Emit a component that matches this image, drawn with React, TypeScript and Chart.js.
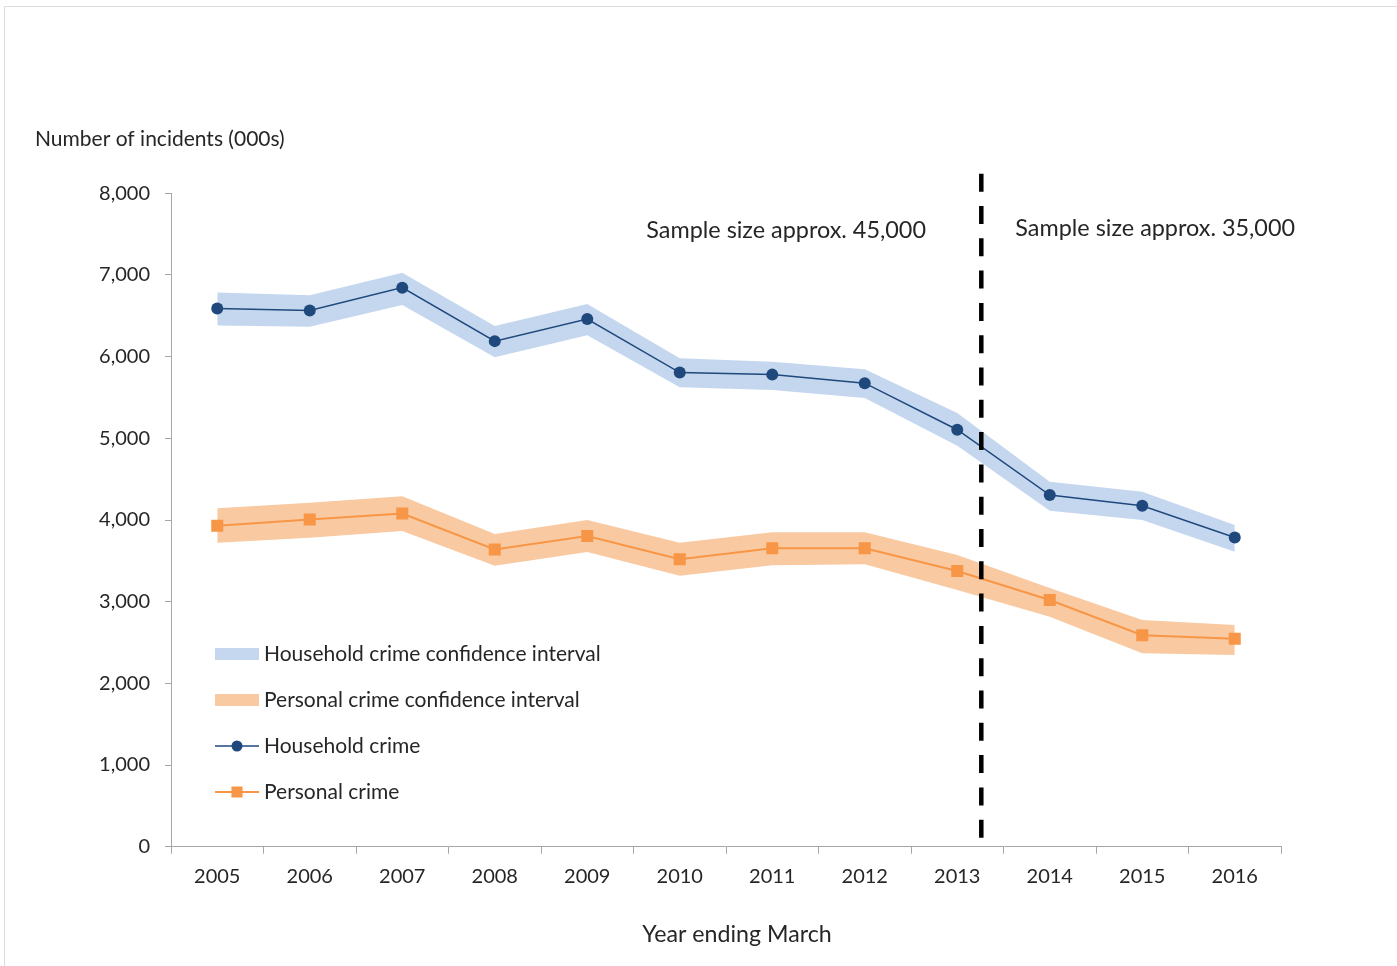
import React, { useEffect, useRef } from "react";
import { Chart, registerables } from "chart.js";

Chart.register(...registerables);

const years = ["2005", "2006", "2007", "2008", "2009", "2010", "2011", "2012", "2013", "2014", "2015", "2016"];
const householdCrime = [6590, 6565, 6845, 6190, 6460, 5805, 5780, 5675, 5105, 4305, 4175, 3785];
const householdLower = [6380, 6367, 6633, 5992, 6262, 5625, 5592, 5494, 4910, 4114, 4000, 3612];
const householdUpper = [6784, 6752, 7028, 6376, 6645, 5980, 5939, 5845, 5310, 4469, 4347, 3939];
const personalCrime = [3930, 4005, 4080, 3640, 3805, 3520, 3655, 3655, 3375, 3020, 2590, 2545];
const personalLower = [3722, 3784, 3866, 3441, 3608, 3318, 3446, 3458, 3143, 2816, 2368, 2347];
const personalUpper = [4144, 4212, 4290, 3829, 4000, 3722, 3850, 3850, 3572, 3168, 2776, 2714];
const yTickValues = [0, 1000, 2000, 3000, 4000, 5000, 6000, 7000, 8000];

const sampleBreakIndex = 8.26;
const sampleBreakTop = 8240;
const sampleLabels = ["Sample size approx. 45,000", "Sample size approx. 35,000"];
const sampleLabelIndex = [6.15, 10.14];
const sampleLabelValue = [7550, 7575];

const legendLabels = [
  "Household crime confidence interval",
  "Personal crime confidence interval",
  "Household crime",
  "Personal crime",
];
const yAxisTitle = "Number of incidents (000s)";
const xAxisTitle = "Year ending March";

const FONT = "Lato";
const TEXT = "#262626";
const AXIS = "#a6a6a6";
const HH_LINE = "#1f497d";
const HH_BAND = "#c5d7ef";
const PC_LINE = "#f79646";
const PC_BAND = "#f9c9a1";

const fmt = (v: number) => v.toLocaleString("en-US");

export default function App() {
  const ref = useRef<HTMLCanvasElement | null>(null);

  useEffect(() => {
    const canvas = ref.current;
    if (!canvas) return;

    const decor = {
      id: "decor",
      beforeDraw(chart: any) {
        const ctx = chart.ctx;
        ctx.save();
        ctx.fillStyle = "#ffffff";
        ctx.fillRect(0, 0, chart.width, chart.height);
        ctx.strokeStyle = "#dcdcdc";
        ctx.lineWidth = 1;
        ctx.strokeRect(4.5, 6.5, chart.width + 20, chart.height + 20);
        ctx.restore();
      },
      afterDatasetsDraw(chart: any) {
        const ctx = chart.ctx;
        const xs = chart.scales.x;
        const ys = chart.scales.y;
        const x = xs.getPixelForValue(sampleBreakIndex);
        ctx.save();
        ctx.strokeStyle = "#000000";
        ctx.lineWidth = 4.5;
        ctx.setLineDash([18, 14.3]);
        ctx.beginPath();
        ctx.moveTo(x, ys.getPixelForValue(sampleBreakTop));
        ctx.lineTo(x, ys.getPixelForValue(0));
        ctx.stroke();
        ctx.restore();
      },
      afterDraw(chart: any) {
        const ctx = chart.ctx;
        const xs = chart.scales.x;
        const ys = chart.scales.y;
        const area = chart.chartArea;
        ctx.save();
        ctx.fillStyle = TEXT;
        ctx.textBaseline = "middle";

        // sample size annotations
        ctx.font = `23.4px ${FONT}`;
        ctx.textAlign = "center";
        sampleLabels.forEach((t, i) => {
          ctx.fillText(t, xs.getPixelForValue(sampleLabelIndex[i]), ys.getPixelForValue(sampleLabelValue[i]));
        });

        // x axis title
        ctx.font = `23.2px ${FONT}`;
        ctx.textAlign = "center";
        ctx.fillText(xAxisTitle, (area.left + area.right) / 2 + 11, area.bottom + 88);

        // y axis title
        ctx.font = `21px ${FONT}`;
        ctx.textAlign = "left";
        ctx.fillText(yAxisTitle, area.left - 136, area.top - 54);

        // legend
        const lx = area.left + 44;
        const sw = 44;
        const tx = lx + sw + 5;
        const rows = [460.7, 506.7, 552.7, 598.7].map((d) => area.top + d);
        ctx.textAlign = "left";
        ctx.fillStyle = HH_BAND;
        ctx.fillRect(lx, rows[0] - 6, sw, 12);
        ctx.fillStyle = PC_BAND;
        ctx.fillRect(lx, rows[1] - 6, sw, 12);
        ctx.strokeStyle = HH_LINE;
        ctx.lineWidth = 1.5;
        ctx.beginPath();
        ctx.moveTo(lx, rows[2]);
        ctx.lineTo(lx + sw, rows[2]);
        ctx.stroke();
        ctx.fillStyle = HH_LINE;
        ctx.beginPath();
        ctx.arc(lx + sw / 2, rows[2], 5.5, 0, Math.PI * 2);
        ctx.fill();
        ctx.strokeStyle = PC_LINE;
        ctx.lineWidth = 2;
        ctx.beginPath();
        ctx.moveTo(lx, rows[3]);
        ctx.lineTo(lx + sw, rows[3]);
        ctx.stroke();
        ctx.fillStyle = PC_LINE;
        ctx.fillRect(lx + sw / 2 - 5.5, rows[3] - 5.5, 11, 11);

        ctx.fillStyle = TEXT;
        legendLabels.forEach((t, i) => ctx.fillText(t, tx, rows[i]));
        ctx.restore();
      },
    };

    const chart = new Chart(canvas, {
      type: "line",
      data: {
        labels: years,
        datasets: [
          {
            label: "Household crime",
            data: householdCrime,
            borderColor: HH_LINE,
            backgroundColor: HH_LINE,
            borderWidth: 1.5,
            pointStyle: "circle",
            pointRadius: 6,
            pointBorderWidth: 0,
            pointBackgroundColor: HH_LINE,
            tension: 0,
            fill: false,
          },
          {
            label: "Personal crime",
            data: personalCrime,
            borderColor: PC_LINE,
            backgroundColor: PC_LINE,
            borderWidth: 2,
            pointStyle: "rect",
            pointRadius: 8.5,
            pointBorderWidth: 0,
            pointBackgroundColor: PC_LINE,
            tension: 0,
            fill: false,
          },
          {
            label: "Household lower",
            data: householdLower,
            borderColor: "transparent",
            borderWidth: 0,
            pointRadius: 0,
            fill: false,
          },
          {
            label: "Household crime confidence interval",
            data: householdUpper,
            borderColor: "transparent",
            backgroundColor: HH_BAND,
            borderWidth: 0,
            pointRadius: 0,
            fill: { target: 2 },
          },
          {
            label: "Personal lower",
            data: personalLower,
            borderColor: "transparent",
            borderWidth: 0,
            pointRadius: 0,
            fill: false,
          },
          {
            label: "Personal crime confidence interval",
            data: personalUpper,
            borderColor: "transparent",
            backgroundColor: PC_BAND,
            borderWidth: 0,
            pointRadius: 0,
            fill: { target: 4 },
          },
        ],
      },
      options: {
        responsive: false,
        animation: false,
        devicePixelRatio: 1,
        layout: { padding: { left: 31, right: 116, top: 193.3, bottom: 59.3 } },
        plugins: {
          legend: { display: false },
          tooltip: { enabled: false },
          title: { display: false },
        },
        scales: {
          x: {
            type: "category",
            offset: true,
            grid: { offset: true, drawOnChartArea: false, tickLength: 7, color: AXIS },
            border: { color: AXIS, width: 1 },
            ticks: { font: { family: FONT, size: 20 }, color: TEXT, padding: 11, maxRotation: 0 },
            afterFit: (s: any) => {
              s.height = 60;
            },
          },
          y: {
            type: "linear",
            min: 0,
            max: 8000,
            afterBuildTicks: (s: any) => {
              s.ticks = yTickValues.map((v) => ({ value: v }));
            },
            grid: { drawOnChartArea: false, tickLength: 6, color: AXIS },
            border: { color: AXIS, width: 1 },
            ticks: {
              font: { family: FONT, size: 20 },
              color: TEXT,
              padding: 15,
              callback: (v: any) => fmt(Number(v)),
            },
            afterFit: (s: any) => {
              s.width = 140;
            },
          },
        },
      },
      plugins: [decor],
    });

    return () => chart.destroy();
  }, []);

  return (
    <div style={{ position: "fixed", left: 0, top: 0, width: 1397, height: 966, background: "#fff" }}>
      <canvas ref={ref} width={1397} height={966} style={{ display: "block", width: 1397, height: 966 }} />
    </div>
  );
}
